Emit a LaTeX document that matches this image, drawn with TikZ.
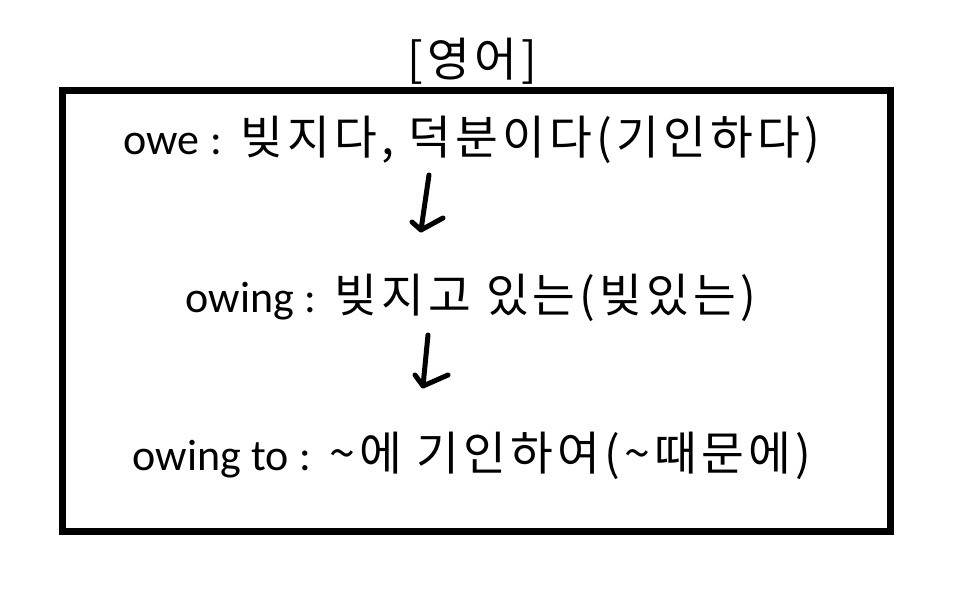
\documentclass[tikz,border=0pt]{standalone}
\usepackage{fontspec}
\setmainfont[LetterSpace=9]{Noto Sans CJK KR}
\newfontfamily\latf{Carlito}
\newcommand{\La}[1]{{\latf\fontsize{44}{50}\selectfont #1}}
\newcommand{\Sep}{{\latf\fontsize{44}{50}\selectfont\hspace{11pt}:\hspace{18pt}}}
\begin{document}
\begin{tikzpicture}[x=1pt,y=-1pt]
\tikzset{
  txt/.style={font=\fontsize{46.5}{52}\selectfont, inner sep=0pt, anchor=center},
  hand/.style={line width=5pt, line cap=round, line join=round}
}
\useasboundingbox (0,0) rectangle (975,591);
\draw[line width=7pt] (62.5,91) rectangle (890.5,531);
\node[txt] (title) at (472,61) {[영어]};
\node[txt] (l1) at (472,140) {\La{owe}\Sep 빚지다, 덕분이다(기인하다)};
\node[txt] (l2) at (471,298) {\La{owing}\Sep 빚지고 있는(빚있는)};
\node[txt] (l3) at (472,456) {\La{owing to}\Sep\textasciitilde 에 기인하여(\textasciitilde 때문에)};
\coordinate (a1s) at (429,175);
\coordinate (a1e) at (421,230);
\coordinate (a2s) at (428,335);
\coordinate (a2e) at (423,386);
\draw[hand] (a1s) -- (a1e);
\draw[hand] (412,222) -- (a1e) -- (443,218);
\draw[hand] (a2s) -- (a2e);
\draw[hand] (415,375) -- (a2e) -- (448,375);
\end{tikzpicture}
\end{document}
